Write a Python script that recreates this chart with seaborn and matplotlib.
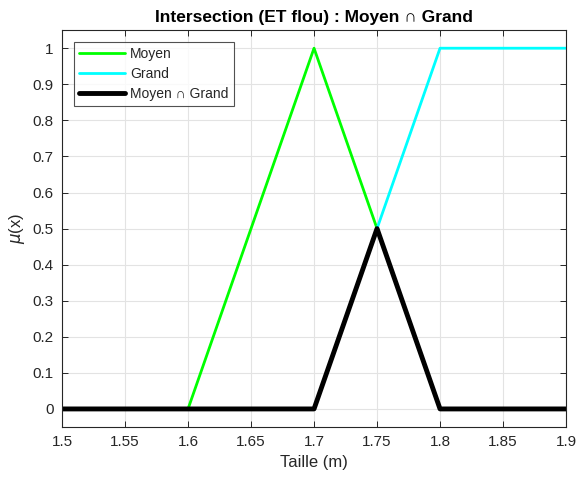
import matplotlib
matplotlib.use("Agg")
import matplotlib.pyplot as plt
import seaborn as sns
import pandas as pd

# Breakpoints of the membership functions (Taille in m)
taille = [1.5, 1.6, 1.7, 1.75, 1.8, 1.9]
mu_moyen = [0.0, 0.0, 1.0, 0.5, 0.0, 0.0]
mu_grand = [0.0, 0.0, 0.0, 0.5, 1.0, 1.0]
mu_inter = [min(a, b) for a, b in zip(mu_moyen, mu_grand)]

xticks = [1.5, 1.55, 1.6, 1.65, 1.7, 1.75, 1.8, 1.85, 1.9]
yticks = [0, 0.1, 0.2, 0.3, 0.4, 0.5, 0.6, 0.7, 0.8, 0.9, 1]

sns.set_theme(style="whitegrid")
plt.rcParams["font.family"] = ["Liberation Sans", "DejaVu Sans"]
plt.rcParams["mathtext.fontset"] = "dejavusans"

df = pd.DataFrame({"x": taille, "moyen": mu_moyen, "grand": mu_grand, "inter": mu_inter})

fig = plt.figure(figsize=(5.77, 4.79), dpi=100)
ax = fig.add_axes([0.1075, 0.1086, 0.8735, 0.8284])

sns.lineplot(data=df, x="x", y="moyen", ax=ax, color="#00ff00", lw=2.0, label="Moyen")
sns.lineplot(data=df, x="x", y="grand", ax=ax, color="#00ffff", lw=2.0, label="Grand")
sns.lineplot(data=df, x="x", y="inter", ax=ax, color="black", lw=3.5, label="Moyen ∩ Grand")

ax.set_xlim(1.5, 1.9)
ax.set_ylim(-0.05, 1.05)
ax.set_xticks(xticks)
ax.set_xticklabels([f"{v:g}" for v in xticks])
ax.set_yticks(yticks)
ax.set_yticklabels([f"{v:g}" for v in yticks])

ax.set_facecolor("white")
ax.grid(True, color="#e3e3e3", lw=0.8)
for s in ax.spines.values():
    s.set_color("#262626")
    s.set_linewidth(0.8)
    s.set_visible(True)
ax.tick_params(direction="in", length=4, width=0.7, colors="#262626",
               labelsize=11, top=True, right=True, bottom=True, left=True,
               labelcolor="#262626", pad=6)

ax.set_xlabel("Taille (m)", fontsize=12, color="#262626")
ax.set_ylabel(r"$\mu$(x)", fontsize=12, color="#262626")
ax.set_title("Intersection (ET flou) : Moyen ∩ Grand", fontsize=12.5, fontweight="bold",
             color="black", pad=6, family=["Liberation Sans", "DejaVu Sans"])

leg = ax.legend(loc="upper left", bbox_to_anchor=(0.024, 0.9705), frameon=True,
                fancybox=False, edgecolor="#262626", fontsize=10,
                handlelength=3.3, handletextpad=0.4, borderpad=0.35, labelspacing=0.45,
                borderaxespad=0)
leg.get_frame().set_linewidth(0.8)

fig.savefig("out.png", dpi=100, facecolor="white")
